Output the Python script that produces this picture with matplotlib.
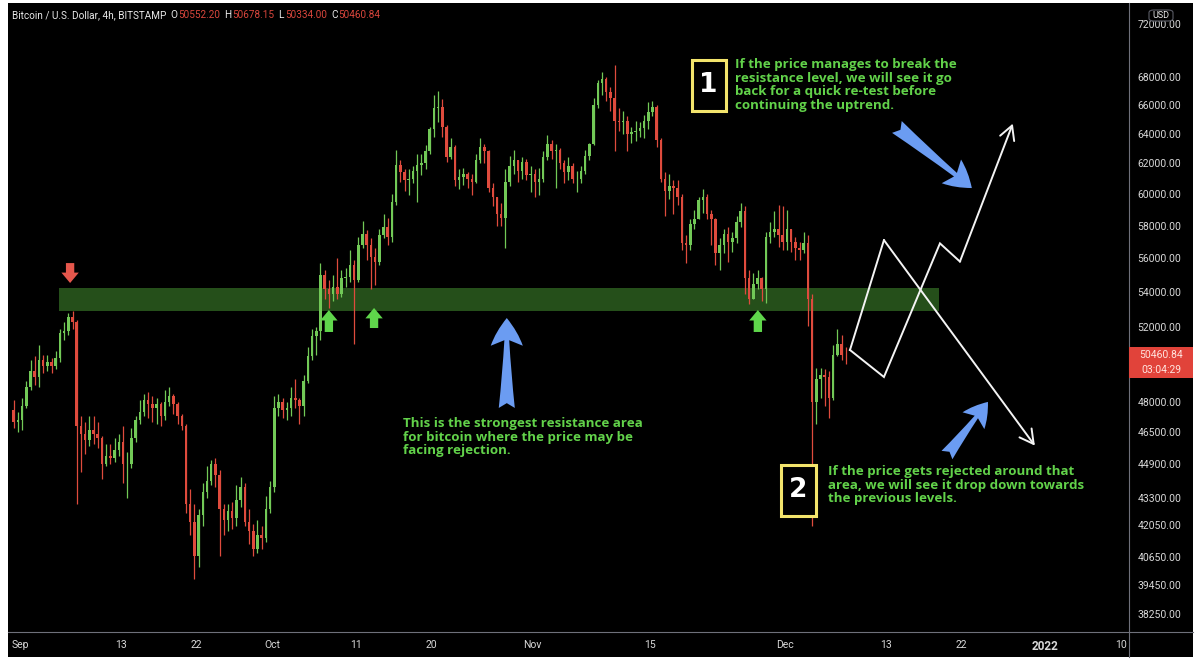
import matplotlib
matplotlib.use("Agg")
import matplotlib.pyplot as plt
import matplotlib.dates as mdates
from matplotlib.patches import Rectangle, FancyBboxPatch
from matplotlib.lines import Line2D
from matplotlib.ticker import NullLocator, FixedLocator, FixedFormatter
import numpy as np
import pandas as pd

# ---------------- data (12h candles) ----------------
start = "2021-08-31 00:00"
first_open = 47600
closes = [
    47000, 47100,  # Aug31
    47800, 48800, 49600, 49300, 50200, 49900, 50100, 49900, 50300, 51700,  # Sep1-5
    51800, 52600, 52300, 46800, 46400, 46100, 46600, 46400, 46200, 44900,  # Sep6-10
    45300, 45200, 45600, 46000, 44900, 44900, 46200, 47100, 47500, 48100,  # Sep11-15
    47900, 47700, 47900, 47300, 48000, 48300, 47900, 47300, 46800, 43000,  # Sep16-20
    42200, 40700, 42500, 43600, 44100, 44900, 44400, 42800, 42300, 42700,  # Sep21-25
    42400, 43200, 43800, 42200, 41800, 41000, 41600, 41500, 42800, 43800,  # Sep26-30
    47700, 48000, 47600, 47700, 48200, 48100, 47800, 49100, 50400, 51500,  # Oct1-5
    51800, 55000, 54200, 53900, 54300, 53900, 54800, 54900, 55600, 54700,  # Oct6-10
    56800, 57500, 56800, 56100, 55800, 57400, 57900, 57300, 59500, 61900,  # Oct11-15
    61400, 60900, 61000, 61500, 61900, 62000, 62800, 64300, 65800, 65900,  # Oct16-20
    64500, 62400, 63100, 60900, 61100, 61300, 61000, 60800, 62200, 63100,  # Oct21-25
    62800, 60400, 59800, 58700, 58500, 60800, 61800, 62200, 61500, 62100,  # Oct26-30
    61200, 61300,  # Oct31
    60800, 61000, 62400, 63300, 62800, 62900, 62000, 61400, 61800, 61000,  # Nov1-5
    61000, 61500, 62500, 63300, 66000, 67600, 67900, 66900, 66500, 64900,  # Nov6-10
    64800, 64900, 64000, 64100, 64200, 64400, 64900, 65500, 65900, 63600,  # Nov11-15
    61000, 60200, 60500, 60400, 59800, 56900, 56800, 58100, 58400, 59600,  # Nov16-20
    59800, 58700, 58400, 56300, 56800, 57500, 57000, 57200, 58200, 58900,  # Nov21-25
    54800, 53600, 54500, 54800, 54200, 57300, 57600, 57800, 57400, 57000,  # Nov26-30
    57800, 57000, 56600, 56500, 56900, 53600, 48000, 49200, 49400, 49300,  # Dec1-5
    48200, 50500, 51100, 50500, 50460.84,  # Dec6-8
]
highs = [
    48100, 47500,
    48200, 49100, 50200, 50400, 51000, 50500, 50500, 50300, 50700, 51900,
    52300, 52800, 52900, 52400, 47300, 47000, 47300, 47300, 47000, 46300,
    45900, 45900, 46200, 46400, 46800, 45500, 46700, 47300, 48100, 48400,
    48500, 48300, 48200, 48000, 48600, 48800, 48400, 48000, 47400, 46900,
    43700, 43000, 42800, 44000, 44800, 45100, 45200, 44600, 43000, 43000,
    43100, 43900, 44300, 44000, 42800, 42100, 42300, 42000, 43400, 44100,
    48300, 48400, 48200, 48000, 48800, 49200, 48200, 49400, 50900, 51900,
    52000, 55700, 55300, 54700, 55000, 56000, 55300, 55400, 56500, 55900,
    57300, 58300, 57700, 57200, 56600, 57800, 58700, 58500, 60000, 62900,
    62200, 61600, 61600, 61800, 62600, 62600, 63200, 64500, 66700, 67000,
    66400, 64600, 63700, 63200, 61600, 61700, 61400, 61300, 62600, 63700,
    63300, 62900, 60700, 59800, 59400, 61600, 62500, 62900, 62200, 62400,
    62300, 61800,
    61600, 61700, 62800, 63900, 63600, 63300, 63000, 62200, 62400, 62000,
    61500, 61800, 62900, 63400, 66500, 67800, 68400, 68000, 67300, 68900,
    65800, 65600, 65200, 64500, 64900, 64800, 65300, 66200, 66300, 66000,
    63700, 61400, 61300, 60900, 60900, 60000, 57400, 58400, 59000, 59800,
    60300, 60000, 59000, 58500, 57200, 57800, 57900, 57600, 58600, 59400,
    59200, 55300, 55100, 55300, 54900, 57600, 58200, 58900, 59300, 59200,
    59000, 57800, 57300, 57000, 57600, 57400, 53900, 49800, 49800, 49700,
    49600, 51000, 51900, 51600, 50900,
]
lows = [
    46700, 46500,
    46600, 47700, 48600, 48900, 48800, 49500, 49600, 49500, 49700, 50100,
    51300, 51600, 51900, 43000, 44500, 45400, 45800, 45900, 45700, 44200,
    44800, 44900, 45000, 45300, 44000, 43300, 44700, 46000, 46900, 47300,
    47200, 47000, 46900, 46800, 47100, 47800, 47400, 46900, 46600, 42600,
    41600, 39700, 40200, 42000, 43300, 43900, 43800, 40700, 41600, 41800,
    41900, 42000, 42900, 42000, 41200, 40700, 40800, 41000, 41300, 42600,
    43600, 47300, 47200, 47100, 47300, 47700, 46900, 47300, 49000, 50200,
    50500, 51300, 53600, 53100, 53500, 53600, 53700, 54300, 54600, 51100,
    54600, 56600, 55900, 54200, 54400, 55600, 57200, 56800, 57000, 59300,
    60800, 60200, 59900, 60700, 59500, 61200, 61600, 62600, 63800, 64800,
    63800, 62100, 62300, 60500, 60300, 60600, 60400, 59900, 60700, 62000,
    62000, 60100, 59200, 58000, 58000, 56600, 60500, 61300, 60800, 61000,
    60900, 60100,
    59800, 59900, 60800, 62200, 62300, 60400, 61600, 60700, 60900, 60700,
    60100, 60700, 61300, 62200, 63200, 65800, 66700, 66300, 65600, 62800,
    64200, 64000, 62800, 63400, 63500, 63800, 63700, 64300, 65200, 63100,
    60800, 58600, 59700, 58700, 59300, 56500, 55700, 56500, 57800, 58400,
    58800, 58400, 56800, 55600, 55300, 56300, 55800, 56400, 56900, 57900,
    53900, 53300, 53700, 54200, 53500, 53400, 56900, 57300, 56700, 56500,
    56500, 56400, 55900, 55900, 56300, 52100, 42000, 46900, 48200, 47800,
    47200, 48100, 50400, 50200, 50000,
]

price_ticks = [72000, 68000, 66000, 64000, 62000, 60000, 58000, 56000, 54000,
               52000, 48000, 46500, 44900, 43300, 42050, 40650, 39450, 38250]
date_ticks = ["2021-09-01", "2021-09-13", "2021-09-22", "2021-10-01", "2021-10-11",
              "2021-10-20", "2021-11-01", "2021-11-15", "2021-12-01", "2021-12-13",
              "2021-12-22", "2022-01-01", "2022-01-10"]
date_labels = ["Sep", "13", "22", "Oct", "11", "20", "Nov", "15", "Dec", "13", "22", "2022", "10"]

zone_dates = ["2021-09-05 15:00", "2021-12-19 08:00"]
zone_prices = [52920, 54240]

bull_dates = ["2021-12-08 18:00", "2021-12-12 19:00", "2021-12-19 11:00",
              "2021-12-21 20:00", "2021-12-28 03:00"]
bull_prices = [50750, 49300, 56900, 55800, 64700]
bear_dates = ["2021-12-08 18:00", "2021-12-12 19:00", "2021-12-30 18:00"]
bear_prices = [50750, 57100, 45800]

# big blue arrows: (tail date, tail price, tip date, tip price)
blue_arrows = [
    ("2021-10-28 22:00", 47690, "2021-10-28 22:00", 52520),
    ("2021-12-14 08:00", 64470, "2021-12-23 06:00", 60380),
    ("2021-12-20 07:00", 45340, "2021-12-25 04:00", 48000),
]
red_arrow = ("2021-09-06 23:00", 55710, 54530)  # date, tail, tip
green_arrows = [("2021-10-07 18:00", 51740, 52970),
                ("2021-10-13 03:00", 51960, 53090),
                ("2021-11-27 19:00", 51740, 52970)]

title = "Bitcoin / U.S. Dollar, 4h, BITSTAMP"
ohlc_letters = ["O", "H", "L", "C"]
ohlc_values = ["50552.20", "50678.15", "50334.00", "50460.84"]
last_price_text = "50460.84"
countdown_text = "03:04:29"

note1 = ("If the price manages to break the\nresistance level, we will see it go\n"
         "back for a quick re-test before\ncontinuing the uptrend.")
note2 = ("If the price gets rejected around that\narea, we will see it drop down towards\n"
         "the previous levels.")
note3 = ("This is the strongest resistance area\nfor bitcoin where the price may be\n"
         "facing rejection.")

# ---------------- figure ----------------
W, H = 1200, 663
fig = plt.figure(figsize=(12, 6.63), dpi=100, facecolor="white")

def fx(px):
    return px / W

def fy(py):
    return 1 - py / H

# black chart panel
fig.add_artist(Rectangle((fx(8), fy(657)), fx(1193) - fx(8), fy(3) - fy(657),
                         transform=fig.transFigure, facecolor="black", edgecolor="none", zorder=0))

ax = fig.add_axes([fx(8), fy(632), (1129 - 8) / W, (632 - 3) / H])
ax.set_facecolor("black")
ax.set_yscale("log")

GREEN = "#72c957"
RED = "#df4b3d"

t0 = pd.Timestamp(start)
dates = pd.date_range(t0, periods=len(closes), freq="12h") + pd.Timedelta(hours=6)
x = mdates.date2num(dates.to_pydatetime())
c = np.array(closes, dtype=float)
o = np.concatenate([[first_open], c[:-1]])
h = np.maximum(np.array(highs, dtype=float), np.maximum(o, c))
l = np.minimum(np.array(lows, dtype=float), np.minimum(o, c))
cols = np.where(c >= o, GREEN, RED)

ax.vlines(x, l, h, colors=cols, linewidth=0.9, zorder=3)
ax.bar(x, np.abs(c - o), bottom=np.minimum(o, c), width=0.30, color=cols,
       linewidth=0, zorder=3)

# resistance zone
zd = mdates.date2num(pd.to_datetime(zone_dates).to_pydatetime())
ax.add_patch(Rectangle((zd[0], zone_prices[0]), zd[1] - zd[0], zone_prices[1] - zone_prices[0],
                       facecolor="#254f1a", edgecolor="none", zorder=2))

# limits
sep1 = mdates.date2num(pd.Timestamp("2021-09-01").to_pydatetime())
ax.set_xlim(sep1 - 1.43, sep1 + 131.95)
ax.set_ylim(37500, 73640)

# axes styling
for s in ax.spines.values():
    s.set_visible(False)
ax.yaxis.tick_right()
ax.yaxis.set_major_locator(FixedLocator(price_ticks))
ax.yaxis.set_major_formatter(FixedFormatter([f"{v:.2f}" for v in price_ticks]))
ax.yaxis.set_minor_locator(NullLocator())
ax.tick_params(axis="y", which="both", length=0, pad=6, labelsize=7.5, labelcolor="#d8d8d8")
for lab in ax.get_yticklabels():
    lab.set_family("Roboto")
dt = mdates.date2num(pd.to_datetime(date_ticks).to_pydatetime())
ax.set_xticks(dt)
ax.set_xticklabels(date_labels)
ax.xaxis.set_minor_locator(NullLocator())
ax.tick_params(axis="x", length=0, pad=6, labelsize=7.5, labelcolor="#d8d8d8")
for lab in ax.get_xticklabels():
    lab.set_family("Roboto")
    if lab.get_text() == "2022":
        lab.set_fontweight("bold")
        lab.set_fontsize(8.5)

# separator lines
fig.add_artist(Line2D([fx(1129), fx(1129)], [fy(3), fy(657)], transform=fig.transFigure,
                      color="#6e707a", linewidth=0.8))
fig.add_artist(Line2D([fx(8), fx(1193)], [fy(632), fy(632)], transform=fig.transFigure,
                      color="#6e707a", linewidth=0.8))

# projected paths
WHITE = "#f4f4f4"
def draw_path(dstr, prices):
    d = mdates.date2num(pd.to_datetime(dstr).to_pydatetime())
    ax.plot(d[:-1], prices[:-1], color=WHITE, linewidth=1.4, zorder=5, solid_joinstyle="miter")
    ax.annotate("", xy=(d[-1], prices[-1]), xytext=(d[-2], prices[-2]),
                arrowprops=dict(arrowstyle="->,head_length=0.55,head_width=0.3", color=WHITE,
                                lw=1.4, shrinkA=0, shrinkB=0, mutation_scale=18), zorder=5)
draw_path(bull_dates, bull_prices)
draw_path(bear_dates, bear_prices)

# blue arrows
BLUE = "#6b9cf2"
blue_sizes = [(0.95, 1.1, 0.55, 21), (0.95, 1.1, 0.55, 20), (0.95, 1.1, 0.55, 18)]
for (td, tp, hd, hp), (hl, hw, tw, ms) in zip(blue_arrows, blue_sizes):
    tdn = mdates.date2num(pd.Timestamp(td).to_pydatetime())
    hdn = mdates.date2num(pd.Timestamp(hd).to_pydatetime())
    ax.annotate("", xy=(hdn, hp), xytext=(tdn, tp),
                arrowprops=dict(arrowstyle=f"fancy,head_length={hl},head_width={hw},tail_width={tw}",
                                color=BLUE, shrinkA=0, shrinkB=0, mutation_scale=ms, linewidth=0),
                zorder=6)

def block_arrow(dstr, tail, tip, color):
    dn = mdates.date2num(pd.Timestamp(dstr).to_pydatetime())
    ax.annotate("", xy=(dn, tip), xytext=(dn, tail),
                arrowprops=dict(arrowstyle="simple,head_length=0.75,head_width=1.25,tail_width=0.6",
                                color=color, shrinkA=0, shrinkB=0, mutation_scale=10, linewidth=0),
                zorder=6)

block_arrow(red_arrow[0], red_arrow[1], red_arrow[2], "#e5574c")
for g in green_arrows:
    block_arrow(g[0], g[1], g[2], "#5fd64b")

# annotation texts
def ax_fx(px):
    return (px - 8) / 1121

def ax_fy(py):
    return (632 - py) / 629

TXT_GREEN = "#62d24a"
tkw = dict(transform=ax.transAxes, color=TXT_GREEN, fontsize=9.6, fontweight="bold",
           family="Open Sans", va="top", ha="left", linespacing=1.06, zorder=7)
ax.text(ax_fx(735), ax_fy(58), note1, **tkw)
ax.text(ax_fx(828), ax_fy(465), note2, **tkw)
ax.text(ax_fx(403), ax_fy(417), note3, **tkw)

YEL = "#f3e46c"
for (x0, y0, x1, y1, num) in [(691.5, 59.5, 725.5, 110.5, "1"), (780.5, 464.5, 815.5, 515.5, "2")]:
    ax.add_patch(Rectangle((ax_fx(x0), ax_fy(y1)), ax_fx(x1) - ax_fx(x0), ax_fy(y0) - ax_fy(y1),
                           transform=ax.transAxes, facecolor="black", edgecolor=YEL,
                           linewidth=2.2, zorder=7))
    ax.text(ax_fx((x0 + x1) / 2), ax_fy((y0 + y1) / 2), num, transform=ax.transAxes,
            color="white", fontsize=19, fontweight="bold", family="DejaVu Sans",
            ha="center", va="center", zorder=8)

# title with OHLC
t = fig.text(fx(12), fy(15), title, color="#e8e8e8", fontsize=7.2, family="Roboto",
             va="center", ha="left")
for letter, val in zip(ohlc_letters, ohlc_values):
    t = ax.annotate("  " + letter, xy=(1, 0.5), xycoords=t, va="center", ha="left",
                    color="#e8e8e8", fontsize=7.2, family="Roboto", annotation_clip=False)
    t = ax.annotate(val, xy=(1, 0.5), xycoords=t, va="center", ha="left",
                    color="#d9463c", fontsize=7.2, family="Roboto", annotation_clip=False)

# USD badge
fig.add_artist(FancyBboxPatch((fx(1149), fy(21)), fx(24), fy(0) - fy(11),
                              boxstyle="round,pad=0,rounding_size=0.004",
                              transform=fig.transFigure, facecolor="black",
                              edgecolor="#5a5c66", linewidth=0.8, zorder=5))
fig.text(fx(1161), fy(15.5), "USD", color="#e8e8e8", fontsize=6.5, family="Roboto",
         ha="center", va="center", zorder=6)

# last price label
y_disp = ax.transData.transform((ax.get_xlim()[0], closes[-1]))[1]
ypx = H - y_disp
fig.add_artist(Rectangle((fx(1129), fy(ypx + 23)), fx(64), fy(0) - fy(31),
                         transform=fig.transFigure, facecolor="#e1433a", edgecolor="none",
                         zorder=5))
fig.text(fx(1161), fy(ypx), last_price_text, color="#ffe3de", fontsize=7.5, family="Roboto",
         ha="center", va="center", zorder=6)
fig.text(fx(1161), fy(ypx + 15), countdown_text, color="#ffe3de", fontsize=7.5,
         family="Roboto", ha="center", va="center", zorder=6)

fig.savefig("out.png", dpi=100, facecolor="white")
